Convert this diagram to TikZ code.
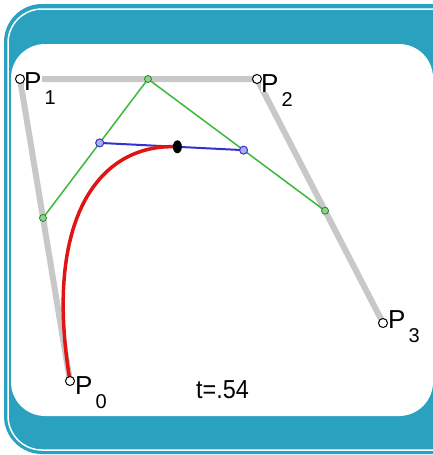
\documentclass[tikz,border=0pt]{standalone}
\usepackage{fontspec}
\setmainfont{Liberation Sans}
\usetikzlibrary{calc}
\definecolor{framecol}{RGB}{42,161,191}
\definecolor{polygray}{RGB}{200,200,200}
\definecolor{lvlgreen}{RGB}{60,185,60}
\definecolor{lvlblue}{RGB}{50,50,205}
\definecolor{curvered}{RGB}{225,20,20}
\def\tval{0.54}
\newcommand{\ptname}[1]{P\rlap{\hspace{3pt}\raisebox{-14pt}[0pt][0pt]{\fontsize{20}{20}\selectfont #1}}}

\begin{document}
\begin{tikzpicture}[x=1pt, y=-1pt, every node/.style={inner sep=0pt, font=\fontsize{26}{26}\selectfont},
  ctrl/.style={polygray, line width=6pt},
  lvlone/.style={lvlgreen, line width=1.5pt},
  lvltwo/.style={lvlblue, line width=2pt},
  ptmark/.style={circle, draw=black, fill=white, line width=1pt, minimum size=9pt},
  gdot/.style={circle, draw=lvlgreen!70!black, fill=lvlgreen!60, line width=.8pt, minimum size=7pt},
  bdot/.style={circle, draw=lvlblue, fill=lvlblue!40, line width=1pt, minimum size=8pt},
  ptlabel/.style={anchor=base west, fill=white}]
\useasboundingbox (0,0) rectangle (433,455);
% frame
\fill[framecol, rounded corners=38pt] (4,4) rectangle (470,454);
\draw[white, line width=1.5pt, rounded corners=34pt] (8,9) rectangle (470,450);
\fill[white, rounded corners=34pt] (11,44) rectangle (433,416);
% control points
\coordinate (P0) at (70,381);
\coordinate (P1) at (20,79);
\coordinate (P2) at (257,79);
\coordinate (P3) at (383,323);
\coordinate (Q0) at ($(P0)!\tval!(P1)$);
\coordinate (Q1) at ($(P1)!\tval!(P2)$);
\coordinate (Q2) at ($(P2)!\tval!(P3)$);
\coordinate (R0) at ($(Q0)!\tval!(Q1)$);
\coordinate (R1) at ($(Q1)!\tval!(Q2)$);
\coordinate (S) at ($(R0)!\tval!(R1)$);
\draw[ctrl] (P0) -- (P1) -- (P2) -- (P3);
\draw[lvlone] (Q0) -- (Q1) -- (Q2);
\draw[lvltwo] (R0) -- (R1);
\draw[curvered, line width=3.5pt] (P0) .. controls (Q0) and (R0) .. (S);
\node[gdot] (q0) at (Q0) {};
\node[gdot] (q1) at (Q1) {};
\node[gdot] (q2) at (Q2) {};
\node[bdot] (r0) at (R0) {};
\node[bdot] (r1) at (R1) {};
\fill[black] (S) ellipse (4.5pt and 6.5pt);
% labels
\node[ptlabel] (l0) at ($(P0)+(5,13)$) {\ptname{0}};
\node[ptlabel] (l1) at ($(P1)+(4,11)$) {\ptname{1}};
\node[ptlabel] (l2) at ($(P2)+(4,13)$) {\ptname{2}};
\node[ptlabel] (l3) at ($(P3)+(5,5)$) {\ptname{3}};
\node[ptmark] (m0) at (P0) {};
\node[ptmark] (m1) at (P1) {};
\node[ptmark] (m2) at (P2) {};
\node[ptmark] (m3) at (P3) {};
\node[anchor=base west, xscale=.9] (tl) at (196,398) {t=.54};
\end{tikzpicture}
\end{document}
